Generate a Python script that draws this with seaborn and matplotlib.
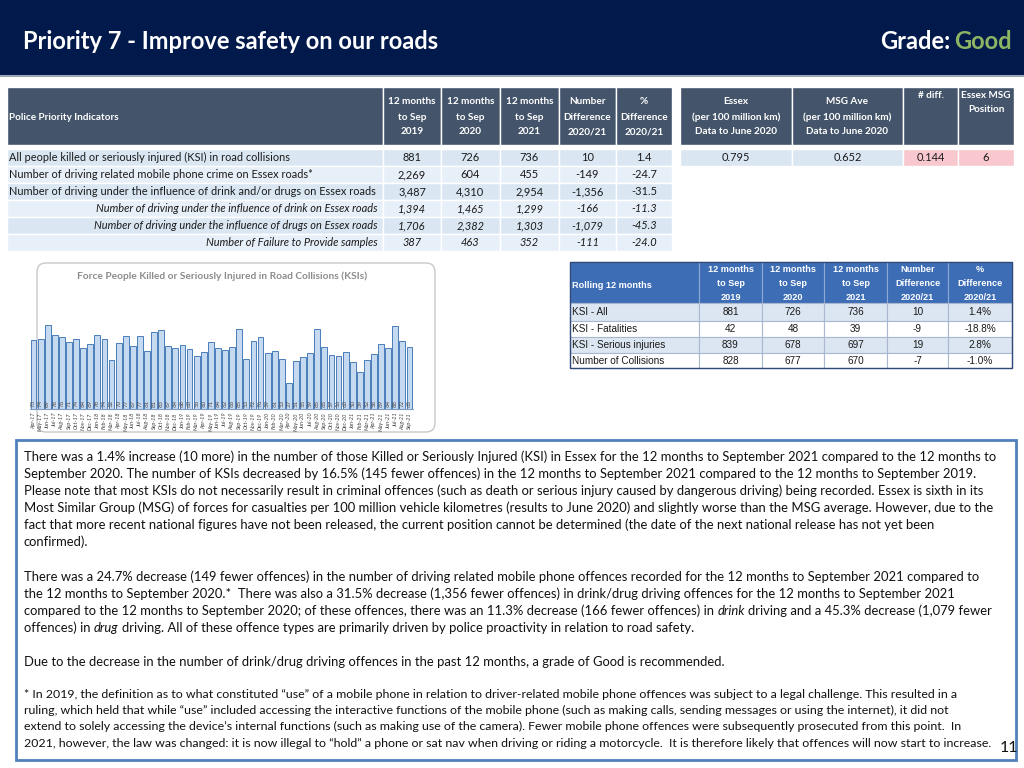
import matplotlib
matplotlib.use("Agg")
import matplotlib.pyplot as plt
import seaborn as sns
from matplotlib.patches import Rectangle, FancyBboxPatch

# ---- chart data ----
months = ["Apr-17", "May-17", "Jun-17", "Jul-17", "Aug-17", "Sep-17", "Oct-17", "Nov-17", "Dec-17",
          "Jan-18", "Feb-18", "Mar-18", "Apr-18", "May-18", "Jun-18", "Jul-18", "Aug-18", "Sep-18",
          "Oct-18", "Nov-18", "Dec-18", "Jan-19", "Feb-19", "Mar-19", "Apr-19", "May-19", "Jun-19",
          "Jul-19", "Aug-19", "Sep-19", "Oct-19", "Nov-19", "Dec-19", "Jan-20", "Feb-20", "Mar-20",
          "Apr-20", "May-20", "Jun-20", "Jul-20", "Aug-20", "Sep-20", "Oct-20", "Nov-20", "Dec-20",
          "Jan-21", "Feb-21", "Mar-21", "Apr-21", "May-21", "Jun-21", "Jul-21", "Aug-21", "Sep-21"]
ksi_monthly = [73, 74, 89, 78, 76, 71, 74, 64, 69, 78, 74, 52, 70, 77, 67, 77, 61, 81,
               83, 67, 64, 68, 63, 56, 60, 71, 64, 62, 66, 85, 53, 72, 76, 59, 61, 53,
               27, 51, 55, 59, 85, 65, 57, 56, 60, 50, 39, 52, 58, 69, 64, 88, 72, 65]

# ---- police priority indicators table ----
indicators = ["All people killed or seriously injured (KSI) in road collisions",
              "Number of driving related mobile phone crime on Essex roads*",
              "Number of driving under the influence of drink and/or drugs on Essex roads",
              "Number of driving under the influence of drink on Essex roads",
              "Number of driving under the influence of drugs on Essex roads",
              "Number of Failure to Provide samples"]
ppi_2019 = [881, 2269, 3487, 1394, 1706, 387]
ppi_2020 = [726, 604, 4310, 1465, 2382, 463]
ppi_2021 = [736, 455, 2954, 1299, 1303, 352]
ppi_num_diff = [10, -149, -1356, -166, -1079, -111]
ppi_pct_diff = [1.4, -24.7, -31.5, -11.3, -45.3, -24.0]
top_heads = ["12 months\nto Sep\n2019", "12 months\nto Sep\n2020", "12 months\nto Sep\n2021",
             "Number\nDifference\n2020/21", "%\nDifference\n2020/21"]

# ---- MSG table ----
msg_heads = ["Essex\n(per 100 million km)\nData to June 2020",
             "MSG Ave\n(per 100 million km)\nData to June 2020", "# diff.", "Essex MSG\nPosition"]
msg_values = ["0.795", "0.652", "0.144", "6"]

# ---- rolling 12 months table ----
roll_rows = ["KSI - All", "KSI - Fatalities", "KSI - Serious injuries", "Number of Collisions"]
roll_2019 = [881, 42, 839, 828]
roll_2020 = [726, 48, 678, 677]
roll_2021 = [736, 39, 697, 670]
roll_num_diff = [10, -9, 19, -7]
roll_pct_diff = [1.4, -18.8, 2.8, -1.0]
roll_heads = ["12 months\nto Sep\n2019", "12 months\nto Sep\n2020", "12 months\nto Sep\n2021",
              "Number\nDifference\n2020/21", "%\nDifference\n2020/21"]

# ---- commentary ----
para1 = ["There was a 1.4% increase (10 more) in the number of those Killed or Seriously Injured (KSI) in Essex for the 12 months to September 2021 compared to the 12 months to",
         "September 2020. The number of KSIs decreased by 16.5% (145 fewer offences) in the 12 months to September 2021 compared to the 12 months to September 2019.",
         "Please note that most KSIs do not necessarily result in criminal offences (such as death or serious injury caused by dangerous driving) being recorded. Essex is sixth in its",
         "Most Similar Group (MSG) of forces for casualties per 100 million vehicle kilometres (results to June 2020) and slightly worse than the MSG average. However, due to the",
         "fact that more recent national figures have not been released, the current position cannot be determined (the date of the next national release has not yet been",
         "confirmed)."]
para2 = [[("There was a 24.7% decrease (149 fewer offences) in the number of driving related mobile phone offences recorded for the 12 months to September 2021 compared to", "normal")],
         [("the 12 months to September 2020.*  There was also a 31.5% decrease (1,356 fewer offences) in drink/drug driving offences for the 12 months to September 2021", "normal")],
         [("compared to the 12 months to September 2020; of these offences, there was an 11.3% decrease (166 fewer offences) in ", "normal"),
          ("drink", "italic"), (" driving and a 45.3% decrease (1,079 fewer", "normal")],
         [("offences) in ", "normal"), ("drug", "italic"),
          (" driving. All of these offence types are primarily driven by police proactivity in relation to road safety.", "normal")]]
para3 = ["Due to the decrease in the number of drink/drug driving offences in the past 12 months, a grade of Good is recommended."]
para4 = ["* In 2019, the definition as to what constituted \u201cuse\u201d of a mobile phone in relation to driver-related mobile phone offences was subject to a legal challenge. This resulted in a",
         "ruling, which held that while \u201cuse\u201d included accessing the interactive functions of the mobile phone (such as making calls, sending messages or using the internet), it did not",
         "extend to solely accessing the device\u2019s internal functions (such as making use of the camera). Fewer mobile phone offences were subsequently prosecuted from this point.  In",
         "2021, however, the law was changed: it is now illegal to \u201chold\u201d a phone or sat nav when driving or riding a motorcycle.  It is therefore likely that offences will now start to increase."]

# ---- style ----
sns.set_style("white")
BODY = "Lato"
ARIAL = "Liberation Sans"
plt.rcParams["font.family"] = [BODY, "DejaVu Sans"]
NAVY = "#011a4b"
SLATE = "#44546a"
ROLL_HEAD = "#3d6db5"
ROWS = ["#dae7f3", "#e7eff8"]
PINK = "#f8c8ce"

fig = plt.figure(figsize=(10.24, 7.68), dpi=100)
bg = fig.add_axes([0, 0, 1, 1])
bg.set_xlim(0, 1024)
bg.set_ylim(768, 0)
bg.axis("off")
renderer = fig.canvas.get_renderer()


def text_w(s, size, **kw):
    t = bg.text(0, 0, s, fontsize=size, **kw)
    w = t.get_window_extent(renderer).width
    t.remove()
    return w


def fit(s, width, **kw):
    return 10 * width / text_w(s, 10, **kw)


def cells(cols, y0, y1, color, edge="white", lw=1.0):
    for a, b in zip(cols[:-1], cols[1:]):
        bg.add_patch(Rectangle((a, y0), b - a, y1 - y0, facecolor=color, edgecolor=edge, lw=lw))


# header band
bg.add_patch(Rectangle((0, 0), 1024, 75, facecolor=NAVY, edgecolor="none"))
bg.plot([0, 1024], [76, 76], color="#9aa7b8", lw=1.5)
title = "Priority 7 - Improve safety on our roads"
tsize = fit(title, 415, fontweight="bold", family=BODY)
bg.text(23, 49, title, color="white", fontsize=tsize, fontweight="bold", family=BODY, va="baseline")
good = bg.text(1012, 49, "Good", color="#8db462", fontsize=tsize, fontweight="bold",
               family=BODY, ha="right", va="baseline")
gx = good.get_window_extent(renderer).x0
bg.text(gx - 4, 49, "Grade:", color="white", fontsize=tsize, fontweight="bold",
        family=BODY, ha="right", va="baseline")

# police priority indicators table
hsize = fit("Difference", 48, fontweight="bold", family=BODY)
bsize = fit(indicators[2], 366, family=BODY)
top_cols = [7, 383, 441, 500, 559, 616, 672]
cells(top_cols, 87, 145, SLATE)
bg.text(9, 117, "Police Priority Indicators", color="white", fontsize=hsize,
        fontweight="bold", va="center")
for j, h in enumerate(top_heads):
    cx = (top_cols[j + 1] + top_cols[j + 2]) / 2
    for k, line in enumerate(h.split("\n")):
        bg.text(cx, 102 + 15 * k, line, color="white", fontsize=hsize, fontweight="bold",
                ha="center", va="center")
row_y = [149, 166, 183, 200, 217, 234, 251]
for r in range(6):
    cells(top_cols, row_y[r], row_y[r + 1], ROWS[r % 2])
    yc = (row_y[r] + row_y[r + 1]) / 2
    style = "italic" if r >= 3 else "normal"
    if r < 3:
        bg.text(9, yc, indicators[r], fontsize=bsize, va="center", color="#1a1a1a")
    else:
        bg.text(378, yc, indicators[r], fontsize=bsize, va="center", ha="right",
                fontstyle=style, color="#1a1a1a")
    vals = [f"{ppi_2019[r]:,}", f"{ppi_2020[r]:,}", f"{ppi_2021[r]:,}",
            f"{ppi_num_diff[r]:,}", f"{ppi_pct_diff[r]:.1f}"]
    for j, v in enumerate(vals):
        cx = (top_cols[j + 1] + top_cols[j + 2]) / 2
        bg.text(cx, yc, v, fontsize=bsize, ha="center", va="center", fontstyle=style, color="#1a1a1a")

# MSG table
msg_cols = [680, 792, 903, 958, 1014]
cells(msg_cols, 87, 145, SLATE)
msg_top = [102, 102, 95, 95]
for j, h in enumerate(msg_heads):
    cx = (msg_cols[j] + msg_cols[j + 1]) / 2
    for k, line in enumerate(h.split("\n")):
        bg.text(cx, msg_top[j] + 15 * k, line, color="white", fontsize=hsize, fontweight="bold",
                ha="center", va="center")
for j, v in enumerate(msg_values):
    color = ROWS[0] if j < 2 else PINK
    bg.add_patch(Rectangle((msg_cols[j], 149), msg_cols[j + 1] - msg_cols[j], 17,
                           facecolor=color, edgecolor="white", lw=1))
    bg.text((msg_cols[j] + msg_cols[j + 1]) / 2, 157.5, v, fontsize=bsize, ha="center",
            va="center", color="#1a1a1a")

# rolling 12 months table
rsize_h = fit("Difference", 45, fontweight="bold", family=ARIAL)
rsize = fit("Number of Collisions", 93, family=ARIAL)
roll_cols = [570, 699, 762, 824, 887, 948, 1012]
cells(roll_cols, 262, 303, ROLL_HEAD, edge="#8fa9d4", lw=0.8)
bg.text(572, 285, "Rolling 12 months", color="white", fontsize=rsize_h, fontweight="bold",
        family=ARIAL, va="center")
for j, h in enumerate(roll_heads):
    cx = (roll_cols[j + 1] + roll_cols[j + 2]) / 2
    for k, line in enumerate(h.split("\n")):
        bg.text(cx, 270 + 13.5 * k, line, color="white", fontsize=rsize_h, fontweight="bold",
                family=ARIAL, ha="center", va="center")
roll_y = [303, 321, 337, 353, 368]
for r in range(4):
    cells(roll_cols, roll_y[r], roll_y[r + 1], "#dce6f2" if r % 2 == 0 else "white",
          edge="#a9b8cf", lw=0.8)
    yc = (roll_y[r] + roll_y[r + 1]) / 2
    bg.text(572, yc, roll_rows[r], fontsize=rsize, family=ARIAL, va="center", color="#1a1a1a")
    vals = [f"{roll_2019[r]}", f"{roll_2020[r]}", f"{roll_2021[r]}",
            f"{roll_num_diff[r]}", f"{roll_pct_diff[r]:.1f}%"]
    for j, v in enumerate(vals):
        cx = (roll_cols[j + 1] + roll_cols[j + 2]) / 2
        bg.text(cx, yc, v, fontsize=rsize, family=ARIAL, ha="center", va="center", color="#1a1a1a")
bg.add_patch(Rectangle((570, 262), 442, 106, facecolor="none", edgecolor="#2f4a78", lw=1))

# chart frame and title
bg.add_patch(FancyBboxPatch((37, 263), 398, 169, boxstyle="round,pad=0,rounding_size=9",
                            facecolor="white", edgecolor="#c8c8c8", lw=1))
ctitle = "Force People Killed or Seriously Injured in Road Collisions (KSIs)"
bg.text(222, 276, ctitle, fontsize=fit(ctitle, 289, fontweight="bold", family=BODY),
        fontweight="bold", color="#8c8c8c", ha="center", va="center")

# bar chart
ax = fig.add_axes([30 / 1024, 1 - 409 / 768, 383 / 1024, 124 / 768])
ax.set_facecolor("none")
sns.barplot(x=months, y=ksi_monthly, color="#c5d9f1", edgecolor="#4a7ebb", linewidth=0.7,
            width=0.82, saturation=1, ax=ax)
ax.set_xlim(-0.5, len(months) - 0.5)
ax.set_ylim(0, 131)
for i, v in enumerate(ksi_monthly):
    ax.text(i, 2, str(v), rotation=90, ha="center", va="bottom", fontsize=4.5, color="#4d4d4d")
for s in ["top", "right", "left"]:
    ax.spines[s].set_visible(False)
ax.spines["bottom"].set_color("#7f9cc4")
ax.spines["bottom"].set_linewidth(0.8)
ax.set_yticks([])
ax.set_xlabel("")
ax.set_ylabel("")
ax.tick_params(axis="x", length=1.5, width=0.5, color="#7f9cc4", pad=1)
ax.set_xticks(range(len(months)))
ax.set_xticklabels(months, rotation=90, fontsize=4, fontstyle="italic", color="#404040")

# commentary box
bg.add_patch(Rectangle((16, 440), 1000, 320, facecolor="white", edgecolor="#4f81bd", lw=2))
psize = fit(para1[0], 973, family=BODY)
fsize = fit(para4[3], 974, family=BODY)
space_w = text_w("a a", psize) - text_w("aa", psize)


def draw_runs(x, y, runs, size):
    for s, style in runs:
        x += (len(s) - len(s.lstrip(" "))) * space_w
        t = bg.text(x, y, s.strip(" "), fontsize=size, fontstyle=style, va="baseline",
                    color="#111111")
        x = t.get_window_extent(renderer).x1 + (len(s) - len(s.rstrip(" "))) * space_w


for line, y in zip(para1, [461, 478, 495, 512, 529, 546]):
    draw_runs(24, y, [(line, "normal")], psize)
for runs, y in zip(para2, [581, 598, 615, 632]):
    draw_runs(24, y, runs, psize)
draw_runs(24, 666, [(para3[0], "normal")], psize)
for line, y in zip(para4, [698, 714, 730, 747]):
    draw_runs(24, y, [(line, "normal")], fsize)

bg.text(1000, 748, "11", fontsize=11.5, ha="left", va="center", color="#111111")

fig.savefig("out.png", dpi=100)
